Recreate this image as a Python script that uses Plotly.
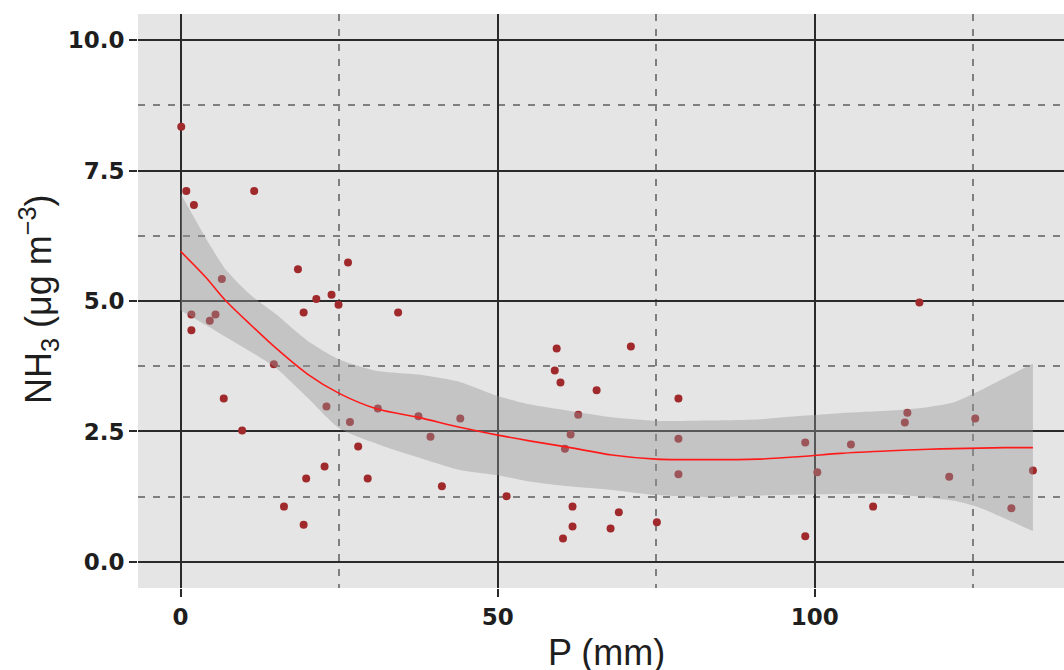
import plotly.graph_objects as go

# Observed points: precipitation P (mm) and NH3 concentration (ug m-3)
p_mm = [0.1, 0.9, 2.1, 11.6, 6.5, 1.7, 1.7, 4.6, 5.5, 18.5, 26.4, 21.4, 23.8, 24.9, 19.4, 34.3,
        14.7, 6.8, 9.7, 23.0, 26.7, 31.1, 37.5, 44.1, 39.4, 28.0, 22.7, 19.8, 29.5, 41.2, 16.3, 19.4,
        59.3, 71.0, 59.0, 59.9, 65.6, 78.5, 62.7, 61.5, 60.6, 78.5, 78.5, 51.4, 61.8, 69.1, 75.1, 61.8,
        67.8, 60.3,
        116.5, 114.6, 114.2, 125.3, 98.5, 105.7, 100.4, 121.2, 134.4, 109.2, 131.0, 98.5]
nh3 = [8.34, 7.11, 6.84, 7.11, 5.42, 4.74, 4.44, 4.62, 4.74, 5.61, 5.74, 5.04, 5.12, 4.93, 4.78, 4.78,
       3.79, 3.13, 2.52, 2.98, 2.68, 2.94, 2.79, 2.75, 2.40, 2.21, 1.83, 1.60, 1.60, 1.45, 1.06, 0.71,
       4.09, 4.13, 3.67, 3.44, 3.29, 3.13, 2.82, 2.44, 2.17, 2.36, 1.68, 1.26, 1.06, 0.95, 0.76, 0.68,
       0.64, 0.45,
       4.97, 2.86, 2.67, 2.75, 2.29, 2.25, 1.72, 1.63, 1.75, 1.06, 1.03, 0.49]

# Smoothed fit and confidence band
smooth_x = [0, 4, 7, 11, 15, 20, 25, 31, 37.5, 44, 50, 55, 61, 68, 75, 83, 91, 98, 104, 112,
            118, 122, 126, 130, 134.4]
smooth_fit = [5.95, 5.45, 5.02, 4.55, 4.10, 3.60, 3.23, 2.93, 2.77, 2.58, 2.43, 2.32, 2.20, 2.05,
              1.97, 1.96, 1.97, 2.02, 2.08, 2.13, 2.16, 2.17, 2.18, 2.19, 2.19]
smooth_upper = [7.06, 6.20, 5.62, 5.12, 4.75, 4.24, 3.88, 3.66, 3.59, 3.45, 3.18, 3.02, 2.90, 2.77,
                2.70, 2.71, 2.73, 2.80, 2.85, 2.90, 2.97, 3.06, 3.28, 3.53, 3.80]
smooth_lower = [4.82, 4.54, 4.32, 4.03, 3.72, 3.15, 2.56, 2.26, 2.00, 1.76, 1.66, 1.54, 1.45, 1.38,
                1.28, 1.24, 1.27, 1.29, 1.30, 1.30, 1.23, 1.17, 1.04, 0.83, 0.59]

x_major = [0, 50, 100]
x_minor = [25, 75, 125]
y_major = [0, 2.5, 5, 7.5, 10]
y_minor = [1.25, 3.75, 6.25, 8.75]
x_ticktext = ["0", "50", "100"]
y_ticktext = ["0.0", "2.5", "5.0", "7.5", "10.0"]

fig = go.Figure()

fig.add_trace(go.Scatter(
    x=p_mm, y=nh3, mode="markers",
    marker=dict(color="#A0292B", size=8, line=dict(width=0)),
    showlegend=False, hoverinfo="skip"))

fig.add_trace(go.Scatter(
    x=smooth_x, y=smooth_lower, mode="lines",
    line=dict(width=0, shape="spline", smoothing=0.6),
    showlegend=False, hoverinfo="skip"))

fig.add_trace(go.Scatter(
    x=smooth_x, y=smooth_upper, mode="lines",
    fill="tonexty", fillcolor="rgba(150,150,152,0.42)",
    line=dict(width=0, shape="spline", smoothing=0.6),
    showlegend=False, hoverinfo="skip"))

fig.add_trace(go.Scatter(
    x=smooth_x, y=smooth_fit, mode="lines",
    line=dict(color="#FF1A1A", width=1.6, shape="spline", smoothing=0.8),
    showlegend=False, hoverinfo="skip"))

tickfont = dict(family="DejaVu Sans", size=23, weight="bold", color="#1e1e1e")
major_col = "#2a2a2a"
minor_col = "#7f7f7f"

fig.update_layout(
    width=1064, height=670,
    margin=dict(l=138, r=0, t=14, b=82),
    paper_bgcolor="white", plot_bgcolor="#E5E5E6",
    xaxis=dict(
        range=[-6.72, 139.3], tickmode="array", tickvals=x_major, ticktext=x_ticktext,
        showgrid=True, gridcolor=major_col, gridwidth=2, zeroline=False, showline=False,
        ticks="outside", ticklen=8, tickwidth=2, tickcolor=major_col, tickfont=tickfont,
        minor=dict(tickmode="array", tickvals=x_minor, showgrid=True, gridcolor=minor_col,
                   gridwidth=1.8, griddash="7px,8px", ticks=""),
    ),
    yaxis=dict(
        range=[-0.5, 10.5], tickmode="array", tickvals=y_major, ticktext=y_ticktext,
        showgrid=True, gridcolor=major_col, gridwidth=2, zeroline=False, showline=False,
        ticks="outside", ticklen=8, tickwidth=2, tickcolor=major_col, tickfont=tickfont,
        minor=dict(tickmode="array", tickvals=y_minor, showgrid=True, gridcolor=minor_col,
                   gridwidth=1.8, griddash="7px,8px", ticks=""),
    ),
    annotations=[
        dict(text="P (mm)", xref="x", x=67.2, yref="paper", y=0, yshift=-64,
             xanchor="center", yanchor="middle", showarrow=False,
             font=dict(family="Liberation Sans", size=36, color="#1e1e1e")),
        dict(text="NH<sub>3</sub> (μg m<sup>−3</sup>)", xref="paper", x=0, xshift=-100,
             yref="paper", y=0.5, yshift=1, textangle=-90,
             xanchor="center", yanchor="middle", showarrow=False,
             font=dict(family="Liberation Sans", size=36, color="#1e1e1e")),
    ],
)

# remove the default page margin so the figure sits at the window's top-left corner
fig.write_html(
    "out.html",
    config={"displayModeBar": False},
    post_script="document.body.style.margin='0';document.body.style.overflow='hidden';",
)
